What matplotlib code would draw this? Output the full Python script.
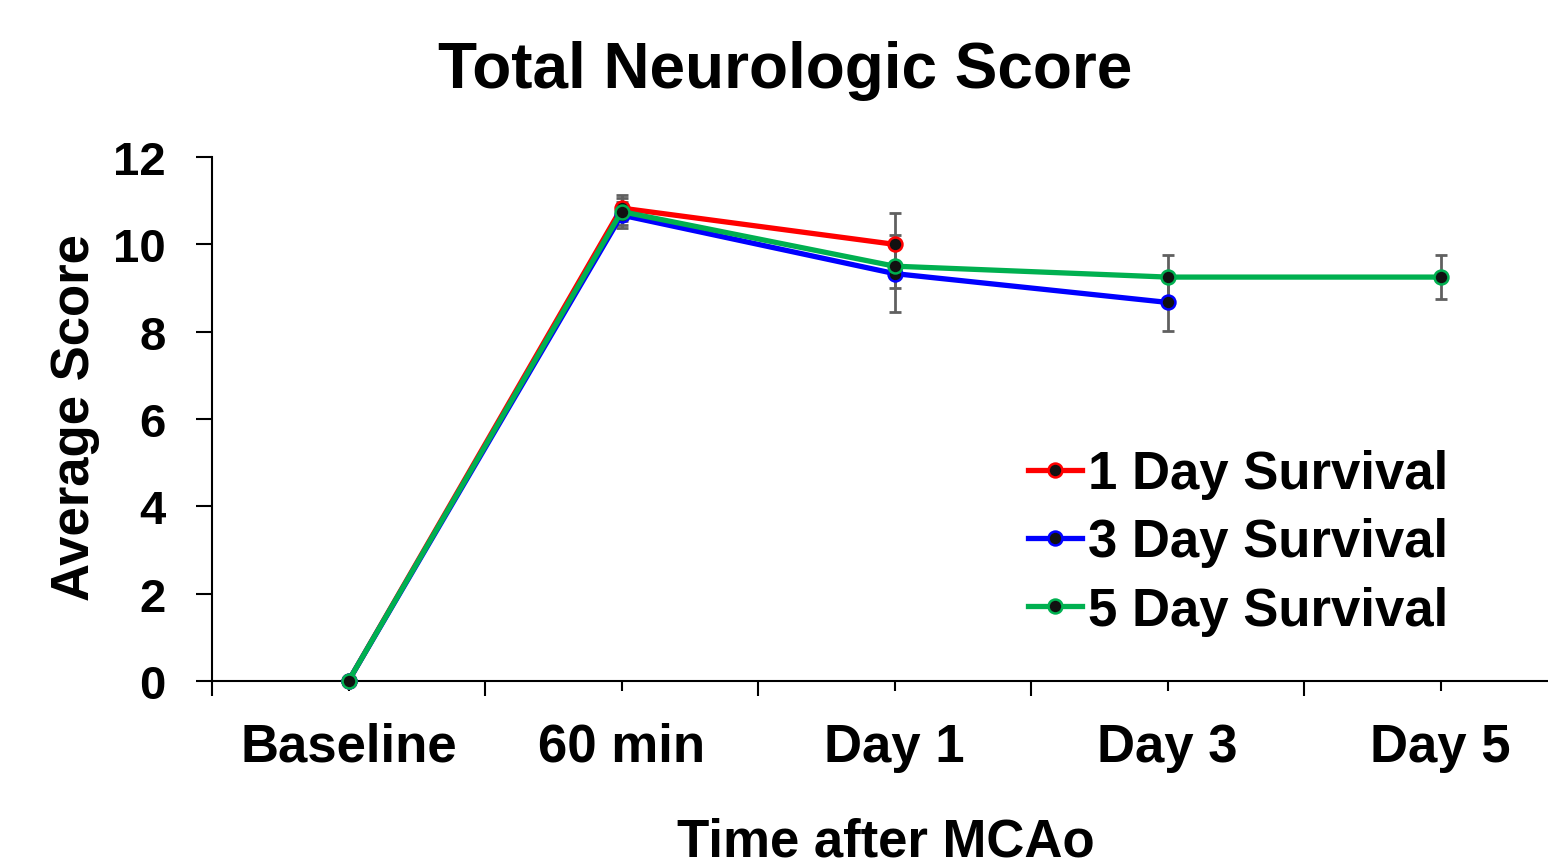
import matplotlib
matplotlib.use("Agg")
import matplotlib.pyplot as plt
import numpy as np

categories = ["Baseline", "60 min", "Day 1", "Day 3", "Day 5"]
series_names = ["1 Day Survival", "3 Day Survival", "5 Day Survival"]
series_colors = ["#FF0000", "#0000FF", "#00B050"]
vals_1day = [0, 10.83, 10.0]
err_1day = [0, 0.3, 0.72]
vals_3day = [0, 10.67, 9.33, 8.67]
err_3day = [0, 0.3, 0.88, 0.65]
vals_5day = [0, 10.75, 9.5, 9.25, 9.25]
err_5day = [0, 0.3, 0.5, 0.5, 0.5]
yticks = [0, 2, 4, 6, 8, 10, 12]

plt.rcParams['font.family'] = ['Liberation Sans', 'DejaVu Sans']
plt.rcParams['font.weight'] = 'bold'

W, H = 1548, 862
fig = plt.figure(figsize=(W / 100, H / 100), dpi=100)
ax = fig.add_axes([212 / W, 1 - 682 / H, (1577 - 212) / W, (682 - 158) / H])

data = [(vals_1day, err_1day), (vals_3day, err_3day), (vals_5day, err_5day)]
for (v, e) in data:
    x = np.arange(len(v))
    ax.errorbar(x, v, yerr=e, fmt='none', ecolor='#606060', elinewidth=2.0,
                capsize=4.5, capthick=2.0, zorder=2)
for i, ((v, e), name, c) in enumerate(zip(data, series_names, series_colors)):
    x = np.arange(len(v))
    ax.plot(x, v, color=c, lw=3.8, marker='o', markersize=10,
            markerfacecolor='#111111', markeredgecolor=c, markeredgewidth=1.8,
            label=name, zorder=3 + i, clip_on=False)

ax.set_xlim(-0.5, 4.5)
ax.set_ylim(0, 12)
ax.set_yticks(yticks)
ax.set_yticklabels([str(t) for t in yticks], fontsize=34, fontweight='bold')
ax.set_xticks(np.arange(-0.5, 5.0, 1.0))
ax.set_xticklabels([])
ax.set_xticks(np.arange(len(categories)), minor=True)
ax.set_xticklabels(categories, minor=True, fontsize=38, fontweight='bold')
ax.tick_params(axis='x', which='major', length=11, width=1.5, direction='out')
ax.tick_params(axis='x', which='minor', length=7.5, width=1.5, direction='out', pad=22)
ax.tick_params(axis='y', which='major', length=11.5, width=1.5, direction='out', pad=22)
for s in ['top', 'right']:
    ax.spines[s].set_visible(False)
for s in ['left', 'bottom']:
    ax.spines[s].set_linewidth(1.5)

fig.text(785 / W, 1 - 88 / H, "Total Neurologic Score", ha='center', va='baseline',
         fontsize=46, fontweight='bold')
fig.text(886 / W, 1 - 857 / H, "Time after MCAo", ha='center', va='baseline',
         fontsize=38, fontweight='bold')
fig.text(75 / W, 1 - 418 / H, "Average Score", ha='center', va='center',
         rotation=90, fontsize=38, fontweight='bold')

leg = fig.legend(loc='upper left', bbox_to_anchor=(1028 / W, 1 - 450 / H),
                 frameon=False, fontsize=38, handlelength=1.02, handletextpad=0.12,
                 labelspacing=0.35, borderpad=0, borderaxespad=0)
for t in leg.get_texts():
    t.set_fontweight('bold')

fig.savefig("out.png", dpi=100)
